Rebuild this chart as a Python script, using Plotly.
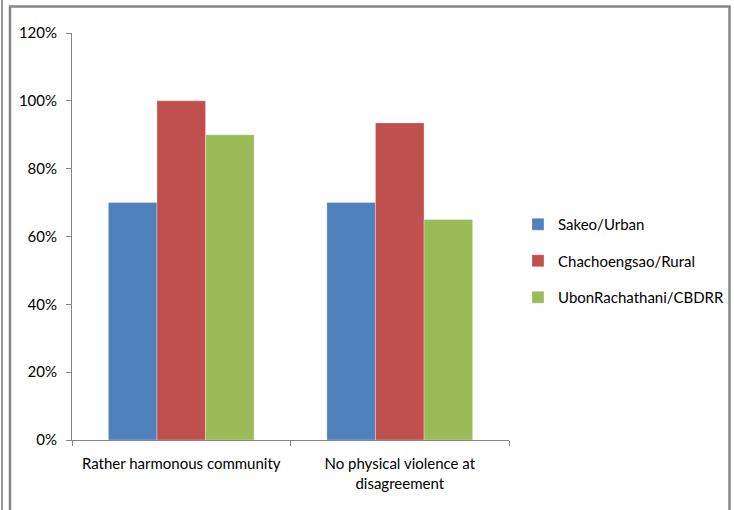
import plotly.graph_objects as go

categories = ["Rather harmonous community", "No physical violence at<br>disagreement"]
series_names = ["Sakeo/Urban", "Chachoengsao/Rural", "UbonRachathani/CBDRR"]
sakeo = [0.70, 0.70]
chachoengsao = [1.00, 0.935]
ubon = [0.90, 0.65]
colors = ["#4F81BD", "#C0504D", "#9BBB59"]
y_ticks = [0, 0.2, 0.4, 0.6, 0.8, 1.0, 1.2]

W, H = 734, 510
L, R, T, B = 72, 225, 33, 70
pw, ph = W - L - R, H - T - B

def px_x(p):
    return (p - L) / pw

def px_y(p):
    return (H - B - p) / ph

FONT = "Lato, sans-serif"

fig = go.Figure()
for name, vals, col in zip(series_names, [sakeo, chachoengsao, ubon], colors):
    fig.add_trace(go.Bar(
        name=name, x=categories, y=vals, marker_color=col,
        marker_line_width=0.6, marker_line_color="rgba(255,255,255,0.5)",
        legendgroup=name,
    ))

fig.update_layout(
    width=W, height=H,
    margin=dict(l=L, r=R, t=T, b=B, pad=0, autoexpand=False),
    paper_bgcolor="white", plot_bgcolor="white",
    barmode="group", bargap=0.333, bargroupgap=0,
    font=dict(family=FONT, size=15, color="#000000"),
    showlegend=True,
    legend=dict(
        xref="container", yref="container",
        x=518 / W, y=1 - 208 / H, xanchor="left", yanchor="top",
        font=dict(family=FONT, size=15, color="#000"),
        tracegroupgap=14, itemwidth=30, bgcolor="rgba(0,0,0,0)",
    ),
    xaxis=dict(
        showline=True, linecolor="#868686", linewidth=1,
        ticks="outside", ticklen=5, tickcolor="#868686",
        tickson="boundaries", showgrid=False, tickangle=0,
        ticklabelstandoff=10,
        tickfont=dict(family=FONT, size=15, color="#000"),
        range=[-0.5, 1.5],
    ),
    yaxis=dict(
        range=[0, 1.2], tickvals=y_ticks, tickformat=".0%",
        showline=True, linecolor="#868686", linewidth=1,
        ticks="outside", ticklen=5, tickcolor="#868686",
        ticklabelstandoff=6,
        showgrid=False, zeroline=False,
        tickfont=dict(family=FONT, size=15, color="#000"),
    ),
    shapes=[
        dict(type="rect", xref="paper", yref="paper",
             x0=px_x(10), x1=px_x(729.5), y0=px_y(530), y1=px_y(6.5),
             line=dict(color="#878787", width=2.5), fillcolor="rgba(0,0,0,0)", layer="below"),
        dict(type="line", xref="paper", yref="paper",
             x0=px_x(2), x1=px_x(2), y0=px_y(530), y1=px_y(-20),
             line=dict(color="#9a9a9a", width=2)),
    ],
)

fig.write_html("out.html")
